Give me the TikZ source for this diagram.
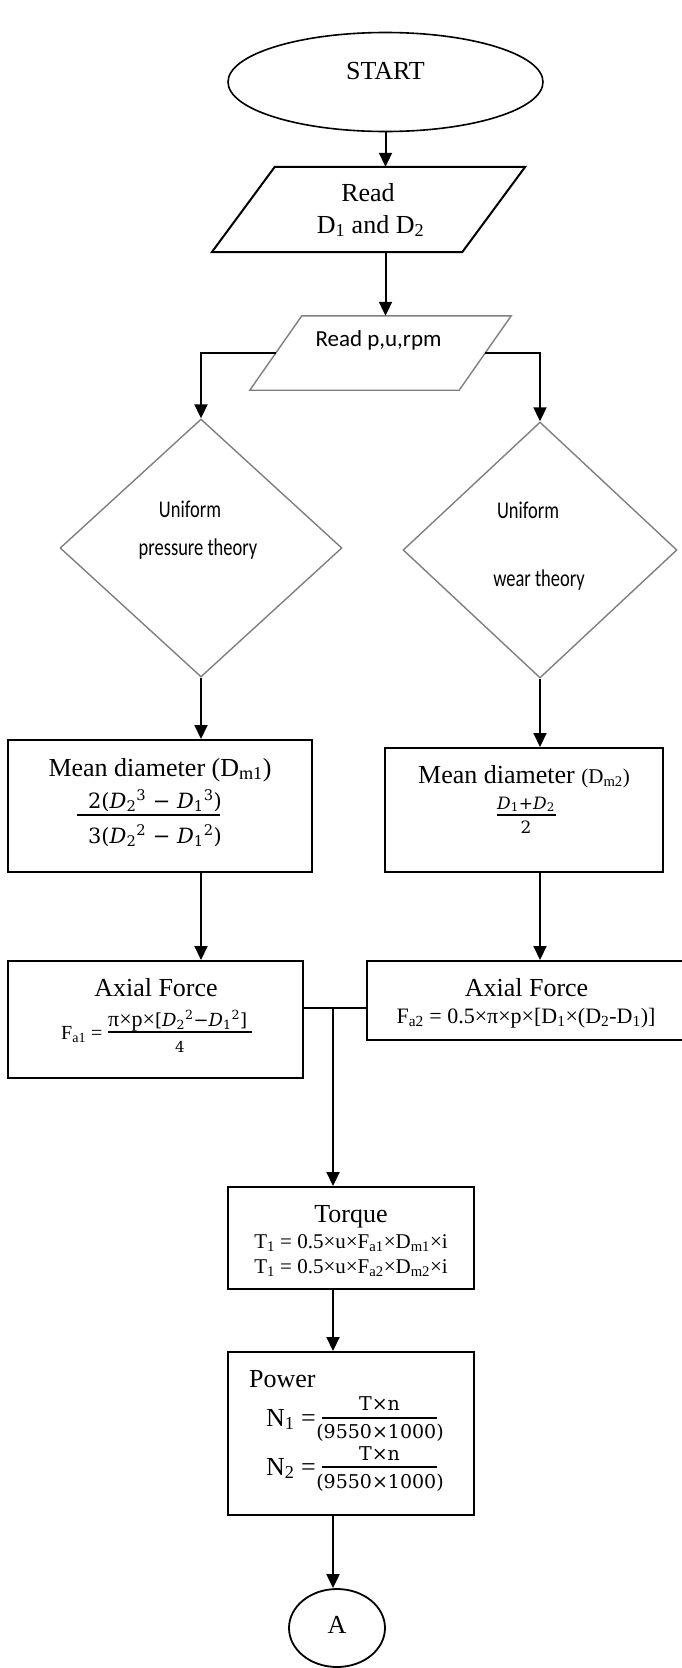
\documentclass[tikz,border=0pt]{standalone}
\usepackage{fontspec}
\usepackage{graphicx}
\setmainfont{Liberation Serif}
\newfontfamily\calib{Carlito}
\newfontfamily\cmb{DejaVu Serif}
\usetikzlibrary{shapes.geometric,arrows.meta}
\definecolor{edgegray}{HTML}{7F7F7F}
\newcommand\FS[1]{\fontsize{#1}{#1}\selectfont}
\newcommand\mysub[1]{\textsubscript{#1}}
\newcommand\mysup[1]{\textsuperscript{#1}}
\newcommand\nar[1]{\scalebox{0.77}[1]{#1}}
\begin{document}
\begin{tikzpicture}[x=1pt,y=-1pt,
  every node/.style={inner sep=0pt},
  ln/.style={line width=2pt},
  arr/.style={line width=2pt,-{Triangle[length=14pt,width=13pt]}},
  bx/.style={draw,line width=2pt,rectangle,inner sep=0pt},
  gshape/.style={draw=edgegray,line width=1.4pt},
  t/.style={anchor=base,inner sep=0pt,font=\FS{26}},
  fbar/.style={fill=black,inner sep=0pt,minimum height=1.6pt}]
\fill[white] (0,0) rectangle (682,1668);
\useasboundingbox (0,0) rectangle (682,1668);

% START
\node[ellipse,draw,line width=1.6pt,minimum width=315pt,minimum height=99pt] (start) at (385.5,82) {};
\node[t] (startT) at (385.5,79) {START};

% Read D1 and D2
\node[minimum width=250pt,minimum height=85pt] (p1) at (368.5,209.5) {};
\draw[ln,line join=miter] ([xshift=31.5pt]p1.north west) -- ([xshift=31.5pt]p1.north east) -- ([xshift=-31.5pt]p1.south east) -- ([xshift=-31.5pt]p1.south west) -- cycle;
\node[t] (p1a) at (368,201) {Read};
\node[t] (p1b) at (370.5,233) {D\mysub{1} and D\mysub{2}};

% Read p,u,rpm
\node[minimum width=209pt,minimum height=74pt] (p2) at (380.5,353) {};
\draw[gshape,line join=miter] ([xshift=26pt]p2.north west) -- ([xshift=26pt]p2.north east) -- ([xshift=-26pt]p2.south east) -- ([xshift=-26pt]p2.south west) -- cycle;
\node[t,font=\calib\FS{23}] (p2T) at (378.5,346) {Read p,u,rpm};

% diamonds
\node[diamond,gshape,minimum width=282pt,minimum height=258pt] (d1) at (201,548) {};
\node[t,font=\calib\FS{24}] (d1a) at (190,517) {\nar{Uniform}};
\node[t,font=\calib\FS{24}] (d1b) at (198,555) {\nar{pressure theory}};
\node[diamond,gshape,minimum width=274pt,minimum height=256pt] (d2) at (540,550) {};
\node[t,font=\calib\FS{24}] (d2a) at (528,518) {\nar{Uniform}};
\node[t,font=\calib\FS{24}] (d2b) at (539,586) {\nar{wear theory}};

% Mean diameter boxes
\node[bx,minimum width=304pt,minimum height=132pt] (m1) at (160,806) {};
\node[t] (m1a) at (160,776) {Mean diameter (D\mysub{m1})};
\node[t,font=\cmb\FS{21}] (m1n) at (155,808) {2(\textit{D}\mysub{2}\mysup{3} − \textit{D}\mysub{1}\mysup{3})};
\node[fbar,minimum width=143pt] (m1b) at (148.5,815) {};
\node[t,font=\cmb\FS{21}] (m1d) at (155,843) {3(\textit{D}\mysub{2}\mysup{2} − \textit{D}\mysub{1}\mysup{2})};

\node[bx,minimum width=278pt,minimum height=124pt] (m2) at (524,810) {};
\node[t] (m2a) at (524,783) {Mean diameter {\FS{21}(D\mysub{m2})}};
\node[t,font=\cmb\FS{17}] (m2n) at (526,809) {\textit{D}\mysub{1}+\textit{D}\mysub{2}};
\node[fbar,minimum width=59pt] (m2b) at (526.5,815) {};
\node[t,font=\cmb\FS{17}] (m2d) at (526,833) {2};

% Axial force boxes
\node[bx,minimum width=295pt,minimum height=117pt] (f1) at (155.5,1019.5) {};
\node[t] (f1a) at (156,996) {Axial Force};
\node[t,anchor=base west,font=\FS{20}] (f1l) at (61,1039) {F\mysub{a1} =};
\node[t,anchor=base west] (f1n) at (108,1026) {{\FS{22}π×p×}{\cmb\FS{18}[\textit{D}\mysub{2}\mysup{2}−\textit{D}\mysub{1}\mysup{2}]}};
\node[fbar,minimum width=144pt] (f1b) at (180,1032) {};
\node[t,font=\cmb\FS{15}] (f1d) at (180,1052) {4};

\node[bx,minimum width=333pt,minimum height=79pt] (f2) at (533.5,1000.5) {};
\node[t] (f2a) at (526.5,996) {Axial Force};
\node[t,font=\FS{22}] (f2b) at (526,1023) {F\mysub{a2} = 0.5×π×p×[D\mysub{1}×(D\mysub{2}-D\mysub{1})]};

% Torque
\node[bx,minimum width=246pt,minimum height=102pt] (tq) at (351,1238) {};
\node[t] (tqa) at (351,1222) {Torque};
\node[t,font=\FS{21}] (tqb) at (351,1248) {T\mysub{1} = 0.5×u×F\mysub{a1}×D\mysub{m1}×i};
\node[t,font=\FS{21}] (tqc) at (351,1273) {T\mysub{1} = 0.5×u×F\mysub{a2}×D\mysub{m2}×i};

% Power
\node[bx,minimum width=246pt,minimum height=163pt] (pw) at (351,1433.5) {};
\node[t,anchor=base west] (pwa) at (249,1387) {Power};
\node[t,anchor=base west] (pwb) at (266,1426) {N\mysub{1} =};
\node[t,font=\cmb\FS{19}] (pwbn) at (379.5,1410) {T×n};
\node[fbar,minimum width=115pt] (pwbb) at (379.5,1418) {};
\node[t,font=\cmb\FS{19}] (pwbd) at (380,1438) {(9550×1000)};
\node[t,anchor=base west] (pwc) at (266,1475) {N\mysub{2} =};
\node[t,font=\cmb\FS{19}] (pwcn) at (379.5,1460) {T×n};
\node[fbar,minimum width=115pt] (pwcb) at (379.5,1467) {};
\node[t,font=\cmb\FS{19}] (pwcd) at (380,1488) {(9550×1000)};

% A
\node[ellipse,draw,line width=1.8pt,minimum width=96pt,minimum height=78pt] (a) at (337,1628) {};
\node[t] (aT) at (337,1633) {A};

% connectors
\coordinate (j) at (333,1008);
\draw[arr] (start.south) -- (start.south |- p1.north);
\draw[arr] (p1.south -| start.south) -- (p2.north -| start.south);
\draw[arr] (p2.west) -| (d1.north);
\draw[arr] (p2.east) -| (d2.north);
\draw[arr] (d1.south) -- (d1.south |- m1.north);
\draw[arr] (d2.south) -- (d2.south |- m2.north);
\draw[arr] (m1.south -| d1.south) -- (d1.south |- f1.north);
\draw[arr] (m2.south -| d2.south) -- (d2.south |- f2.north);
\draw[ln] (f1.east |- j) -- (f2.west |- j);
\draw[arr] (j) -- (j |- tq.north);
\draw[arr] (tq.south -| j) -- (pw.north -| j);
\draw[arr] (pw.south -| j) -- (a.north -| j);
\end{tikzpicture}
\end{document}
